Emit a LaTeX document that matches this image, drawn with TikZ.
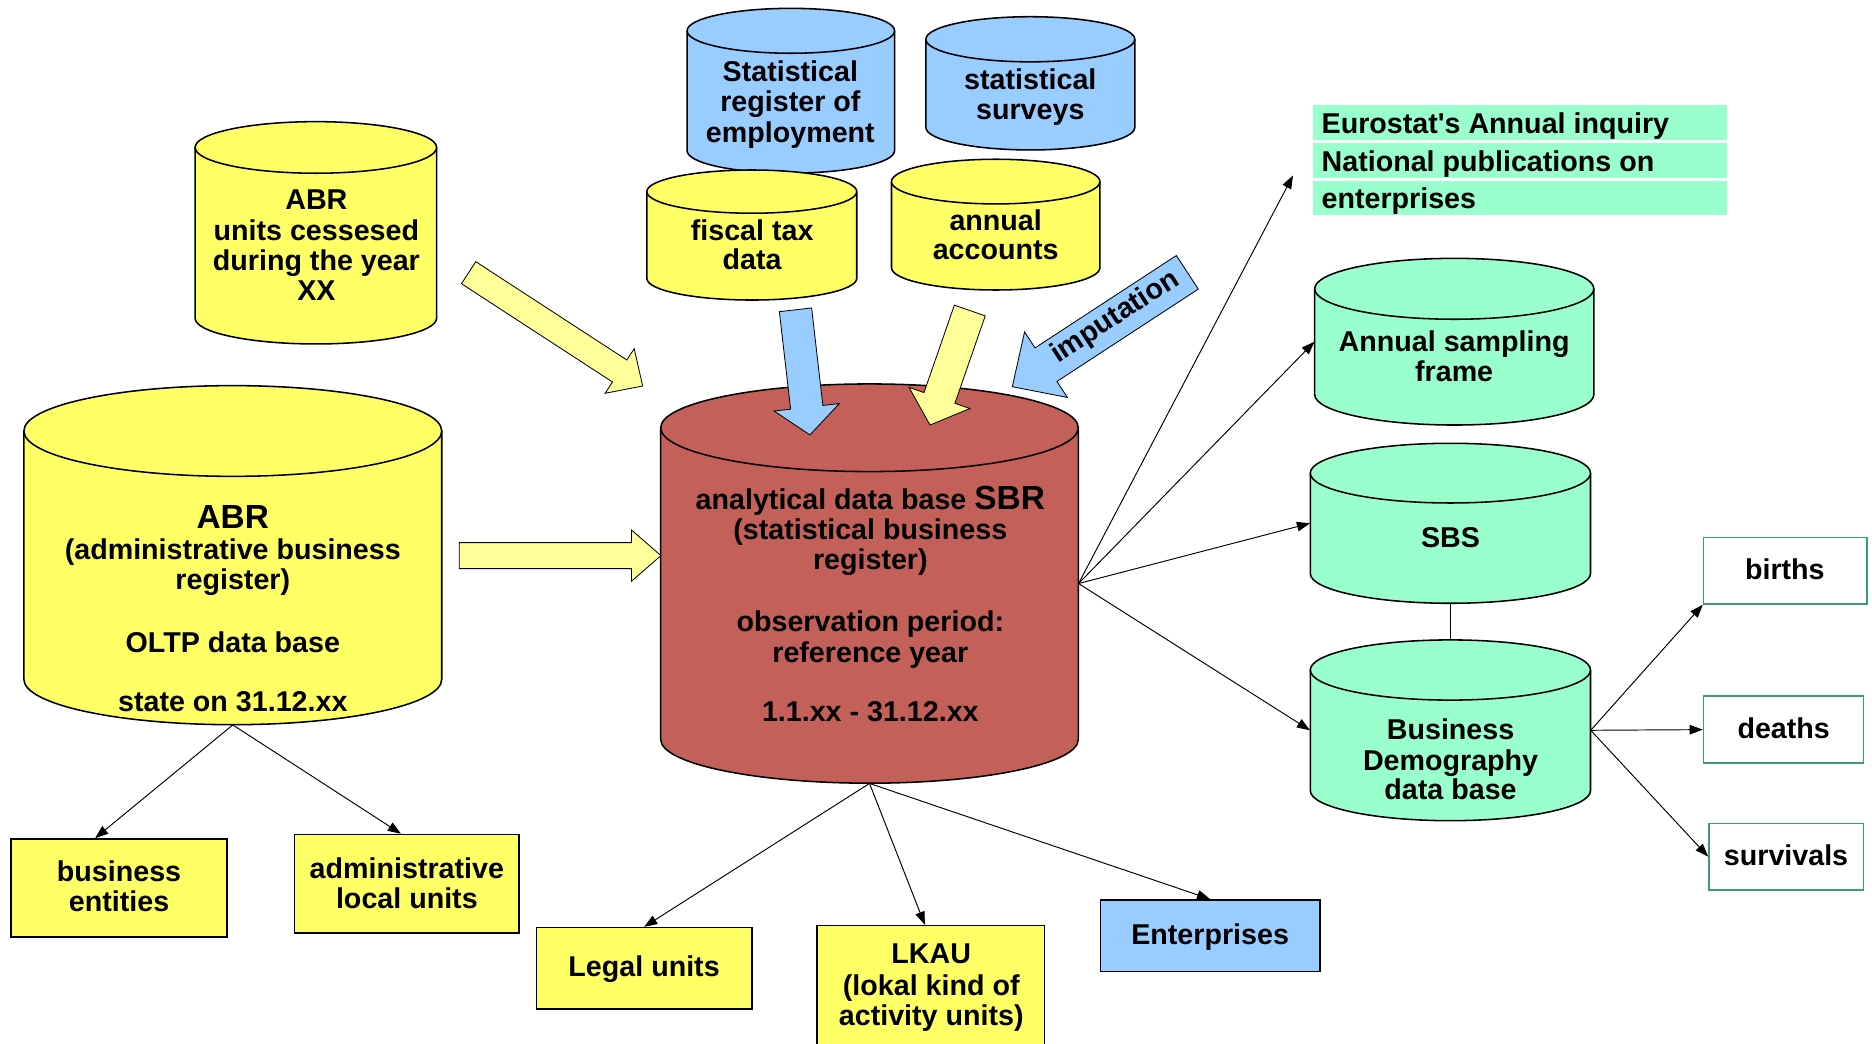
\documentclass[tikz,border=0pt]{standalone}
\usepackage{fontspec}
\newfontfamily\lsans{Liberation Sans}
\usetikzlibrary{arrows.meta,calc}
\definecolor{cyY}{HTML}{FFFF66}
\definecolor{arY}{HTML}{FFFF99}
\definecolor{cyB}{HTML}{99CCFF}
\definecolor{cyR}{HTML}{C4605A}
\definecolor{cyG}{HTML}{99FFCC}
\definecolor{bxG}{HTML}{3C9E6E}
\tikzset{
  cylline/.style={line width=1.3pt, draw=black},
  bline/.style={line width=0.7pt, draw=black},
  conn/.style={line width=0.8pt, draw=black, -{Triangle[length=11pt,width=8pt]}},
  plain/.style={line width=0.8pt, draw=black},
  txt/.style={font=\lsans\bfseries\fontsize{24}{25.5}\selectfont, inner sep=0pt, anchor=base, yshift=-1.7pt},
  boxy/.style={draw=black, line width=1.3pt, fill=cyY, inner sep=0pt},
  boxb/.style={draw=black, line width=1.3pt, fill=cyB, inner sep=0pt},
  boxg/.style={draw=bxG, line width=1.3pt, fill=white, inner sep=0pt},
  lab/.style={fill=cyG, inner sep=0pt, minimum width=347pt, minimum height=29pt},
}
\newcommand\mycyl[7]{%
 \pgfmathsetmacro\cyX{(#2+#3)/2}%
 \pgfmathsetmacro\cyR{(#3-#2)/2}%
 \pgfmathsetmacro\cyA{#4+#5}%
 \pgfmathsetmacro\cyB{#6-#5}%
 \pgfmathsetmacro\cyKx{0.5523*\cyR}%
 \pgfmathsetmacro\cyKy{\cyB+0.5523*#5}%
 \pgfmathsetmacro\cyXl{\cyX-\cyKx}%
 \pgfmathsetmacro\cyXr{\cyX+\cyKx}%
 \filldraw[cylline, fill=#7] (#2,\cyA) -- (#2,\cyB) .. controls (#2,\cyKy) and (\cyXl,#6) .. (\cyX,#6) .. controls (\cyXr,#6) and (#3,\cyKy) .. (#3,\cyB) -- (#3,\cyA);
 \filldraw[cylline, fill=#7] (\cyX,\cyA) ellipse [x radius=\cyR, y radius=#5];
 \node[inner sep=0pt, minimum width=2*\cyR, minimum height=#6-#4] (#1) at (\cyX,{(#4+#6)/2}) {};
}
\newcommand\mybox[6]{%
 \node[#6, minimum width=#4-#2, minimum height=#5-#3] (#1) at ({(#2+#4)/2},{(#3+#5)/2}) {};
}
\newcommand\myarrow[6]{%
 \coordinate (bh) at ($(#2)!#5pt!(#1)$);
 \filldraw[bline, fill=#6] ($(#1)!#3pt!90:(#2)$) -- ($(bh)!#3pt!90:(#2)$) -- ($(bh)!#4pt!90:(#2)$) -- (#2) -- ($(bh)!#4pt!-90:(#2)$) -- ($(bh)!#3pt!-90:(#2)$) -- ($(#1)!#3pt!-90:(#2)$) -- cycle;
}
\begin{document}
\begin{tikzpicture}[x=1pt,y=-1pt]
\useasboundingbox (0,0) rectangle (1568,874);
\fill[white] (0,0) rectangle (1568,874);

% cylinders
\mycyl{abrc}{163.4}{365.7}{101.9}{21.6}{288.1}{cyY}
\mycyl{abr}{20}{370}{323}{38}{607}{cyY}
\mycyl{sre}{575.5}{749.3}{7}{18.8}{145}{cyB}
\mycyl{ssv}{775.5}{950.5}{14}{18.9}{125.6}{cyB}
\mycyl{ftd}{541.8}{717.6}{142.4}{18.1}{251.3}{cyY}
\mycyl{aac}{746.7}{921.3}{133.4}{18.7}{242.9}{cyY}
\mycyl{sbr}{553.4}{903.2}{321.6}{36.7}{656}{cyR}
\mycyl{asf}{1101.2}{1335}{216.4}{25.5}{356}{cyG}
\mycyl{sbs}{1097.5}{1332.2}{371.3}{25}{505.3}{cyG}
\mycyl{bd}{1097.5}{1332.2}{536}{25.2}{687.4}{cyG}

% block arrows
\coordinate (a1s) at (392.5,228.4); \coordinate (a1e) at (538.3,323.3);
\coordinate (a2s) at (384.7,465.4); \coordinate (a2e) at (553.6,465.4);
\coordinate (a3s) at (666.3,259.5); \coordinate (a3e) at (678.4,364.3);
\coordinate (a4s) at (812.3,260.1); \coordinate (a4e) at (779,356);
\coordinate (a5s) at (994.5,228.1); \coordinate (a5e) at (847.9,323.9);
\myarrow{a1s}{a1e}{11}{22.3}{23}{arY}
\myarrow{a2s}{a2e}{10.9}{21.4}{24.6}{arY}
\myarrow{a3s}{a3e}{13.6}{27.5}{23.3}{cyB}
\myarrow{a4s}{a4e}{13.7}{27}{24}{arY}
\myarrow{a5s}{a5e}{16.8}{32.8}{33.7}{cyB}
\node[txt, anchor=center, rotate=33, yshift=1.7pt] (imp) at (935.3,265.5) {imputation};

% boxes
\mybox{be}{9.4}{702.7}{190}{784.8}{boxy}
\mybox{alu}{246.8}{699}{434.9}{781.4}{boxy}
\mybox{lu}{449.2}{777}{629.9}{845.1}{boxy}
\mybox{lkau}{684.3}{775.3}{875}{884}{boxy}
\mybox{ent}{921.7}{753.8}{1105.6}{813.6}{boxb}
\mybox{bir}{1426.9}{450.3}{1563.7}{505.9}{boxg}
\mybox{dea}{1426.9}{583}{1560.8}{639.3}{boxg}
\mybox{sur}{1431.4}{689.6}{1560.8}{745.4}{boxg}

% green labels
\mybox{l1}{1099.5}{87.6}{1446.8}{117.3}{lab}
\mybox{l2}{1099.5}{119.5}{1446.8}{148.8}{lab}
\mybox{l3}{1099.5}{151.3}{1446.8}{180.1}{lab}
\node[txt] (l1t) at (1106.8,110.3) [anchor=base west] {Eurostat's Annual inquiry};
\node[txt] (l2t) at (1106.8,141.8) [anchor=base west] {National publications on};
\node[txt] (l3t) at (1106.8,173.1) [anchor=base west] {enterprises};

% connectors
\coordinate (fe) at (1083,147);
\draw[conn] (abr.south) -- ([xshift=-20pt]be.north);
\draw[conn] (abr.south) -- ([xshift=-5pt]alu.north);
\draw[conn] (sbr.south) -- (lu.north);
\draw[conn] (sbr.south) -- ([xshift=-5pt]lkau.north);
\draw[conn] (sbr.south) -- (ent.north);
\draw[conn] (sbr.east) -- (fe);
\draw[conn] (sbr.east) -- (asf.west);
\draw[conn] (sbr.east) -- (sbs.west);
\draw[conn] (sbr.east) -- (bd.west);
\draw[plain] (sbs.south) -- (bd.north);
\draw[conn] (bd.east) -- (bir.south west);
\draw[conn] (bd.east) -- (dea.west);
\draw[conn] (bd.east) -- (sur.west);

% texts
\node[txt] (t1a) at (265,173.5) {ABR};
\node[txt] (t1b) at (265,199.5) {units cessesed};
\node[txt] (t1c) at (265,224.5) {during the year};
\node[txt] (t1d) at (265,250) {XX};

\node[txt, font=\lsans\bfseries\fontsize{28}{30}\selectfont] (t2a) at (195,441) {ABR};
\node[txt] (t2b) at (195,467) {(administrative business};
\node[txt] (t2c) at (195,492) {register)};
\node[txt] (t2d) at (195,544.5) {OLTP data base};
\node[txt] (t2e) at (195,594.5) {state on 31.12.xx};

\node[txt] (t3a) at (662,66.5) {Statistical};
\node[txt] (t3b) at (662,92) {register of};
\node[txt] (t3c) at (662,117.5) {employment};

\node[txt] (t4a) at (863,73) {statistical};
\node[txt] (t4b) at (863,98) {surveys};

\node[txt] (t5a) at (630,200) {fiscal tax};
\node[txt] (t5b) at (630,224) {data};

\node[txt] (t6a) at (834,191) {annual};
\node[txt] (t6b) at (834,216) {accounts};

\node[txt] (t7a) at (729,425) {analytical data base {\fontsize{28}{30}\selectfont SBR}};
\node[txt] (t7b) at (729,450) {(statistical business};
\node[txt] (t7c) at (729,475.5) {register)};
\node[txt] (t7d) at (729,527.5) {observation period:};
\node[txt] (t7e) at (729,553) {reference year};
\node[txt] (t7f) at (729,603) {1.1.xx - 31.12.xx};

\node[txt] (t8a) at (1218,292.5) {Annual sampling};
\node[txt] (t8b) at (1218,317.5) {frame};
\node[txt] (t9) at (1215,456.5) {SBS};
\node[txt] (t10a) at (1215,617.5) {Business};
\node[txt] (t10b) at (1215,643.5) {Demography};
\node[txt] (t10c) at (1215,668) {data base};

\node[txt] (t11) at (1495,484) {births};
\node[txt] (t12) at (1494,617) {deaths};
\node[txt] (t13) at (1496,723) {survivals};

\node[txt] (t14a) at (99.7,737) {business};
\node[txt] (t14b) at (99.7,762) {entities};
\node[txt] (t15a) at (340.8,734) {administrative};
\node[txt] (t15b) at (340.8,759) {local units};
\node[txt] (t16) at (539.5,816.5) {Legal units};
\node[txt] (t17a) at (780,805.5) {LKAU};
\node[txt] (t17b) at (780,832) {(lokal kind of};
\node[txt] (t17c) at (780,857.5) {activity units)};
\node[txt] (t18) at (1013.6,789.5) {Enterprises};
\end{tikzpicture}
\end{document}
